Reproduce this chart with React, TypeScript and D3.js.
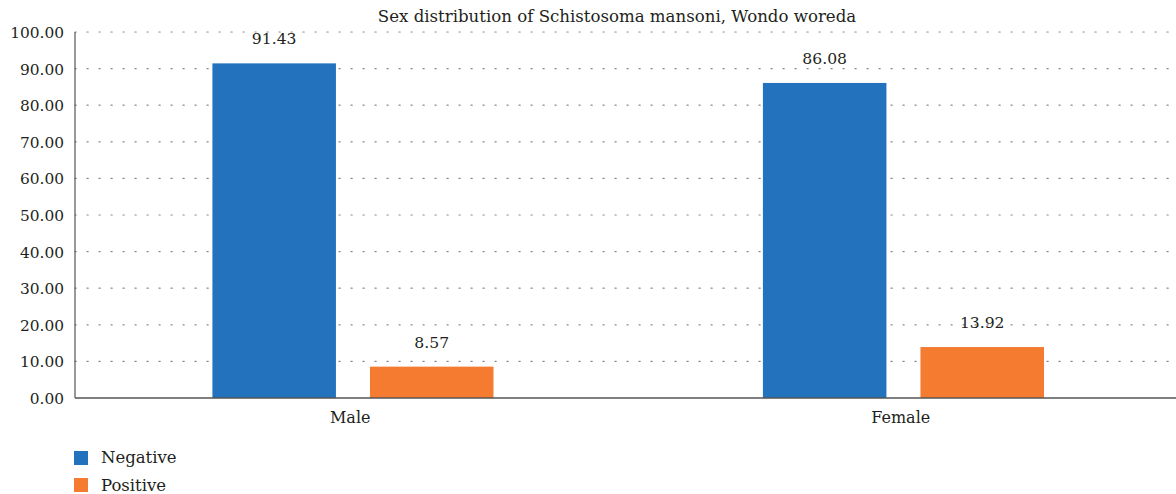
import React from "react";
import * as d3 from "d3";

const categories = ["Male", "Female"];
const seriesNames = ["Negative", "Positive"];
const negative = [91.43, 86.08];
const positive = [8.57, 13.92];
const yTicks = [0, 10, 20, 30, 40, 50, 60, 70, 80, 90, 100];
const title = "Sex distribution of Schistosoma mansoni, Wondo woreda";

const colors = ["#2372be", "#f47b30"];
const FONT = "'DejaVu Serif', serif";
const TXT = "#231f20";

export default function App() {
  const W = 1176, H = 494;
  const left = 75, right = 1176, top = 32, bottom = 398;
  const x0 = d3.scaleBand<string>().domain(categories).range([left, right]);
  const x1 = d3.scaleBand<string>().domain(seriesNames).range([0, x0.bandwidth()]).paddingInner(0.216).paddingOuter(0.855).align(0.51);
  const y = d3.scaleLinear().domain([0, 100]).range([bottom, top]);
  const values = [negative, positive];

  return (
    <svg width={W} height={H} style={{ position: "absolute", left: 0, top: 0 }}>
      <text x={617} y={22} textAnchor="middle" fontSize={16.6} fill={TXT} style={{ fontFamily: FONT }}>{title}</text>
      {yTicks.map((t) => (
        <g key={t}>
          {t > 0 && (
            <line x1={left} x2={right} y1={y(t)} y2={y(t)} stroke="#888" strokeWidth={1.2}
              strokeDasharray="1.2 10.8" strokeLinecap="round" />
          )}
          <text x={64} y={y(t) + 6} textAnchor="end" fontSize={15.4} fill={TXT} style={{ fontFamily: FONT }}>{t.toFixed(2)}</text>
        </g>
      ))}
      {categories.map((c, i) => (
        <g key={c}>
          {seriesNames.map((s, j) => {
            const v = values[j][i];
            const bx = (x0(c) as number) + (x1(s) as number);
            return (
              <g key={s}>
                <rect x={bx} y={y(v)} width={x1.bandwidth()} height={bottom - y(v)} fill={colors[j]} />
                <text x={bx + x1.bandwidth() / 2} y={y(v) - 19} textAnchor="middle" fontSize={15.6} fill={TXT} style={{ fontFamily: FONT }}>{v.toFixed(2)}</text>
              </g>
            );
          })}
          <text x={(x0(c) as number) + x0.bandwidth() / 2} y={423} textAnchor="middle" fontSize={16} fill={TXT} style={{ fontFamily: FONT }}>{c}</text>
        </g>
      ))}
      <line x1={left} x2={left} y1={top} y2={bottom} stroke="#555" strokeWidth={1.2} />
      <line x1={left} x2={right} y1={bottom} y2={bottom} stroke="#555" strokeWidth={1.5} />
      {seriesNames.map((s, j) => (
        <g key={s}>
          <rect x={74} y={451 + j * 27} width={14} height={14} fill={colors[j]} />
          <text x={101} y={463 + j * 27.5} fontSize={16.5} fill={TXT} style={{ fontFamily: FONT }}>{s}</text>
        </g>
      ))}
    </svg>
  );
}
